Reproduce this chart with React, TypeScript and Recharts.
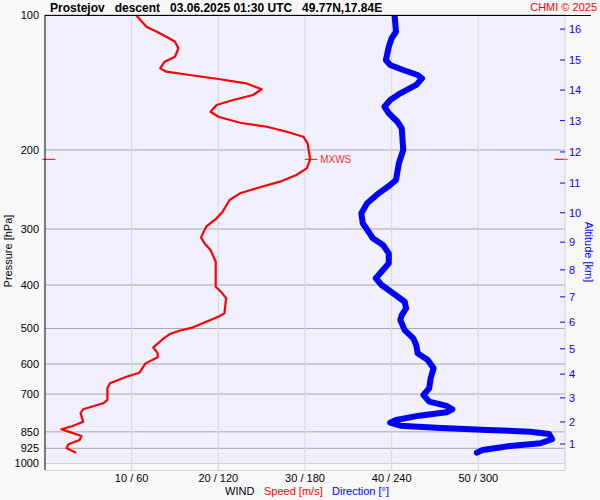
import React from 'react';
import { LineChart, Line, XAxis, YAxis, CartesianGrid, ReferenceArea, ReferenceLine } from 'recharts';

const pressureTicks = [100, 200, 300, 400, 500, 600, 700, 850, 925, 1000];
const windTicks = [10, 20, 30, 40, 50];
const windTickLabels = ['10 / 60', '20 / 120', '30 / 180', '40 / 240', '50 / 300'];

const altitudeKm = [1, 2, 3, 4, 5, 6, 7, 8, 9, 10, 11, 12, 13, 14, 15, 16];
const altitudePressure = [905, 808, 714, 632, 555, 484, 425, 370, 321, 276, 237, 202, 172, 147, 126, 107.5];

const speedPressure = [100, 106.2, 109, 111.8, 114.7, 118.6, 123.9, 127.1, 131.5, 133.8, 136.1, 139.1, 142, 146.4, 150.8, 154.7, 158.7, 164.3, 168.6, 173.9, 177.5, 182.1, 186.8, 193.3, 209.8, 219.7, 227.4, 235.3, 243.4, 249.8, 258.5, 274.5, 284, 296.5, 313.2, 322.9, 334.2, 354.9, 403.5, 416.1, 428.3, 462.6, 470.8, 483, 497.1, 505.9, 514.5, 526, 550.9, 568.1, 579.9, 598.1, 627.4, 640.4, 662.4, 679.7, 721.7, 734, 757, 772.7, 806.7, 824.7, 838.8, 849.2, 868.2, 886.2, 906, 924.8, 945.9];
const speedValues = [10.5, 11.7, 12.9, 14.0, 15.0, 15.4, 15.0, 13.8, 13.3, 14.0, 16.7, 20.2, 23.2, 25.0, 24.0, 21.7, 19.8, 19.1, 20.0, 22.5, 25.6, 27.9, 29.8, 30.3, 30.6, 30.2, 29.0, 27.1, 24.4, 22.5, 21.3, 20.5, 19.8, 18.6, 18.0, 18.4, 19.1, 19.7, 19.7, 20.4, 20.9, 20.7, 20.0, 18.6, 17.1, 15.5, 14.4, 13.7, 12.5, 13.0, 13.0, 11.6, 10.9, 9.4, 7.5, 7.2, 7.2, 6.7, 4.4, 4.1, 4.4, 3.2, 1.9, 2.7, 4.2, 4.0, 2.7, 2.5, 3.6];

const directionPressure = [100, 109, 112.7, 117.7, 126, 129.3, 132.6, 136.1, 138.4, 143.2, 149.5, 154.7, 160.1, 165.6, 173, 179, 200, 214.1, 233.3, 239.3, 249.8, 262.9, 276.8, 291.4, 304.3, 314.8, 325.7, 340, 357.8, 370.3, 386.4, 400, 417.4, 435.8, 450.9, 466.7, 478.6, 504.1, 526, 544.4, 568.1, 587.7, 613.4, 645.7, 679.7, 703.6, 728, 744.2, 757, 768.7, 782.3, 799.7, 810.9, 823.5, 832, 841.9, 849.2, 859.3, 883, 901.4, 913.9, 932.9, 945.9];
const directionValues = [242, 243, 240, 238, 236, 239, 248, 258, 261, 257, 246, 239, 235, 238, 244, 247, 248, 245, 243, 239, 231, 223, 219, 220, 224, 227, 234, 238, 238, 234, 229, 233, 241, 249, 250, 247, 246, 249, 255, 257, 258, 265, 269, 267, 266, 262, 266, 278, 282, 278, 259, 243, 239, 246, 271, 306, 336, 349, 351, 343, 322, 303, 299];

const mxwsSpeed = 30.7;
const mxwsPressure = 209.8;

const speedData = speedPressure.map((p, i) => ({ p, v: speedValues[i] }));
const directionData = directionPressure.map((p, i) => ({ p, v: directionValues[i] }));

const TITLE = 'Prostejov   descent   03.06.2025 01:30 UTC   49.77N,17.84E';

const renderAltTick = (props: any) => {
  const { x, y, payload } = props;
  const idx = altitudePressure.indexOf(payload.value);
  return (
    <g>
      <line x1={x - 5} y1={y} x2={x} y2={y} stroke="#0000ff" strokeWidth={1} />
      <text x={x + 4} y={y} dy="0.36em" fill="#0000ff" fontSize={11}>{altitudeKm[idx]}</text>
    </g>
  );
};

export default function App() {
  return (
    <div style={{ position: 'absolute', left: 0, top: 0, width: 600, height: 500, background: '#f8f8f8', fontFamily: 'Arial, "Liberation Sans", sans-serif' }}>
      <LineChart width={600} height={500} layout="vertical" margin={{ top: 15, right: 0, bottom: 0, left: 0 }}>
        <CartesianGrid xAxisId="s" yAxisId="p" vertical={false} stroke="#a8a8a8" fill="#f0f0ff" fillOpacity={1} />
        <ReferenceArea xAxisId="s" yAxisId="p" x1={0} x2={60} y1={1000} y2={1034} fill="#f8f8f8" fillOpacity={1} stroke="none" />
        {windTicks.map((t) => (
          <ReferenceLine key={t} xAxisId="s" yAxisId="p" x={t} stroke="#d8d8d8" strokeWidth={1} />
        ))}
        <XAxis xAxisId="s" type="number" domain={[0, 60]} allowDataOverflow ticks={windTicks} interval={0}
          tickFormatter={(v: number) => windTickLabels[windTicks.indexOf(v)]}
          height={30} axisLine={false} tickLine={false} tickSize={0} tickMargin={4} tick={{ fill: '#000', fontSize: 11 }} />
        <XAxis xAxisId="d" orientation="top" type="number" domain={[0, 360]} allowDataOverflow hide />
        <YAxis yAxisId="p" dataKey="p" type="number" scale="log" domain={[100, 1034]} allowDataOverflow ticks={pressureTicks} interval={0}
          width={45} axisLine={{ stroke: '#000' }} tickLine={false} tickSize={0} tickMargin={6} tick={{ fill: '#000', fontSize: 11 }} />
        <YAxis yAxisId="alt" orientation="right" dataKey="p" type="number" scale="log" domain={[100, 1034]} allowDataOverflow ticks={altitudePressure} interval={0}
          width={35} axisLine={{ stroke: '#d0d0d0' }} tickLine={false} tickSize={0} tickMargin={0} tick={renderAltTick} />
        <Line xAxisId="s" yAxisId="p" data={speedData} dataKey="v" stroke="#ff0000" strokeWidth={2.2} dot={false} isAnimationActive={false} strokeLinejoin="round" />
        <Line xAxisId="d" yAxisId="p" data={directionData} dataKey="v" stroke="#0000ff" strokeWidth={6} dot={false} isAnimationActive={false} strokeLinejoin="round" strokeLinecap="round" />
        <ReferenceLine xAxisId="s" yAxisId="p" ifOverflow="visible" stroke="#ff0000" strokeWidth={1}
          segment={[{ x: mxwsSpeed - 0.7, y: mxwsPressure }, { x: mxwsSpeed + 0.7, y: mxwsPressure }]}
          label={{ value: 'MXWS', position: 'right', fill: '#ff3030', fontSize: 10, offset: 3 }} />
        <ReferenceLine xAxisId="s" yAxisId="p" ifOverflow="visible" stroke="#ff0000" strokeWidth={1}
          segment={[{ x: -0.3, y: mxwsPressure }, { x: 1.2, y: mxwsPressure }]} />
        <ReferenceLine xAxisId="s" yAxisId="p" ifOverflow="visible" stroke="#ff0000" strokeWidth={1}
          segment={[{ x: 58.8, y: mxwsPressure }, { x: 60.3, y: mxwsPressure }]} />
      </LineChart>
      <svg width={600} height={500} style={{ position: 'absolute', left: 0, top: 0, pointerEvents: 'none' }}>
        <line x1={45} y1={15.5} x2={591} y2={15.5} stroke="#000" strokeWidth={1} />
        <text x={50} y={12} fontWeight="bold" fontSize={12} fill="#000" style={{ whiteSpace: 'pre' }}>{TITLE}</text>
        <text x={597} y={11} textAnchor="end" fill="#ff0000" fontSize={11}>CHMI © 2025</text>
        <text transform="translate(12,251) rotate(-90)" textAnchor="middle" fontSize={11} fill="#000">Pressure [hPa]</text>
        <text transform="translate(585,252) rotate(90)" textAnchor="middle" fontSize={11} fill="#0000ff">Altitude [km]</text>
        <text x={225} y={495} fontSize={11} fill="#000">WIND</text>
        <text x={264} y={495} fontSize={11} fill="#ff0000">Speed [m/s]</text>
        <text x={332} y={495} fontSize={11} fill="#0000ff">Direction [°]</text>
      </svg>
    </div>
  );
}
